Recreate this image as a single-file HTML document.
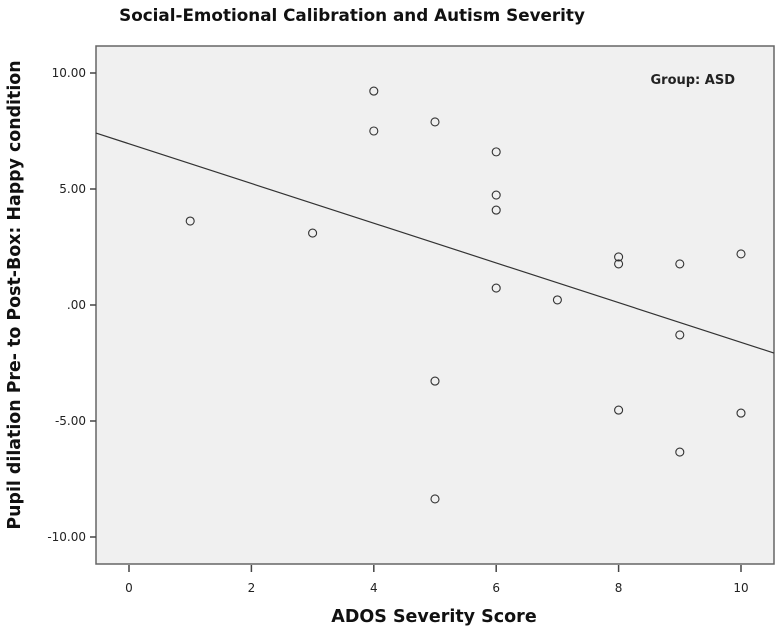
<!DOCTYPE html>
<html><head><meta charset="utf-8"><style>
body{margin:0;background:#fff;}
svg{display:block;font-family:"DejaVu Sans","Liberation Sans",sans-serif;}
</style></head><body>
<svg id="chart" width="778" height="629">
<text x="352" y="21" text-anchor="middle" font-size="16.8" font-weight="bold" fill="#111">Social-Emotional Calibration and Autism Severity</text>
<rect x="96" y="46" width="678" height="518" fill="#f0f0f0" stroke="#666" stroke-width="1.5"/>
<text x="735" y="84" text-anchor="end" font-size="13" font-weight="bold" fill="#222">Group: ASD</text>
<g id="yticks"></g><g id="xticks"></g><g id="fit"></g><g id="pts"></g>
<text transform="translate(20,295) rotate(-90)" text-anchor="middle" font-size="17.4" font-weight="bold" fill="#111">Pupil dilation Pre- to Post-Box: Happy condition</text>
<text x="434" y="622" text-anchor="middle" font-size="17.5" font-weight="bold" fill="#111">ADOS Severity Score</text>
</svg>
<script>
const xVals=[1,3,4,4,5,5,5,6,6,6,6,7,8,8,8,9,9,9,10,10];
const yVals=[3.62,3.10,9.22,7.50,7.89,-3.28,-8.36,6.60,4.74,4.09,0.73,0.22,2.07,1.77,-4.53,1.77,-1.29,-6.34,2.20,-4.66];
const yTickVals=[10,5,0,-5,-10];
const yTickLabels=["10.00","5.00",".00","-5.00","-10.00"];
const xTickVals=[0,2,4,6,8,10];
const fitIntercept=[6.95];
const fitSlope=[-0.856];
const NS="http://www.w3.org/2000/svg";
const L=96,R=774,T=46,B=564;
const sx=v=>129+v*61.2;
const sy=v=>305-v*23.2;
const xMin=(L-129)/61.2,xMax=(R-129)/61.2;
function mk(tag,attrs,parent){const e=document.createElementNS(NS,tag);for(const k in attrs)e.setAttribute(k,attrs[k]);parent.appendChild(e);return e;}
const yt=document.getElementById('yticks');
yTickVals.forEach((v,i)=>{
 const l=mk('line',{x1:L-6,x2:L,y1:sy(v),y2:sy(v),stroke:'#444','stroke-width':1.5},yt);
 
 
 const t=mk('text',{x:L-10,y:sy(v)+4,'text-anchor':'end','font-size':12,fill:'#222'},yt);
 t.textContent=yTickLabels[i];
 
 
});
const xt=document.getElementById('xticks');
xTickVals.forEach(v=>{
 const l=mk('line',{x1:sx(v),x2:sx(v),y1:B+1,y2:B+8,stroke:'#444','stroke-width':1.5},xt);
 
 
 const t=mk('text',{x:sx(v),y:B+28,'text-anchor':'middle','font-size':12,fill:'#222'},xt);
 t.textContent=String(v);
 
 
});
const f=document.getElementById('fit');
const fl=mk('line',{x1:sx(xMin),y1:sy(fitIntercept[0]+fitSlope[0]*xMin),x2:sx(xMax),y2:sy(fitIntercept[0]+fitSlope[0]*xMax),stroke:'#333','stroke-width':1.2},f);


const p=document.getElementById('pts');
xVals.forEach((x,i)=>{
 const c=mk('circle',{cx:sx(x),cy:sy(yVals[i]),r:4,fill:'none',stroke:'#333','stroke-width':1.1},p);
 
 
});
</script>
</body></html>
